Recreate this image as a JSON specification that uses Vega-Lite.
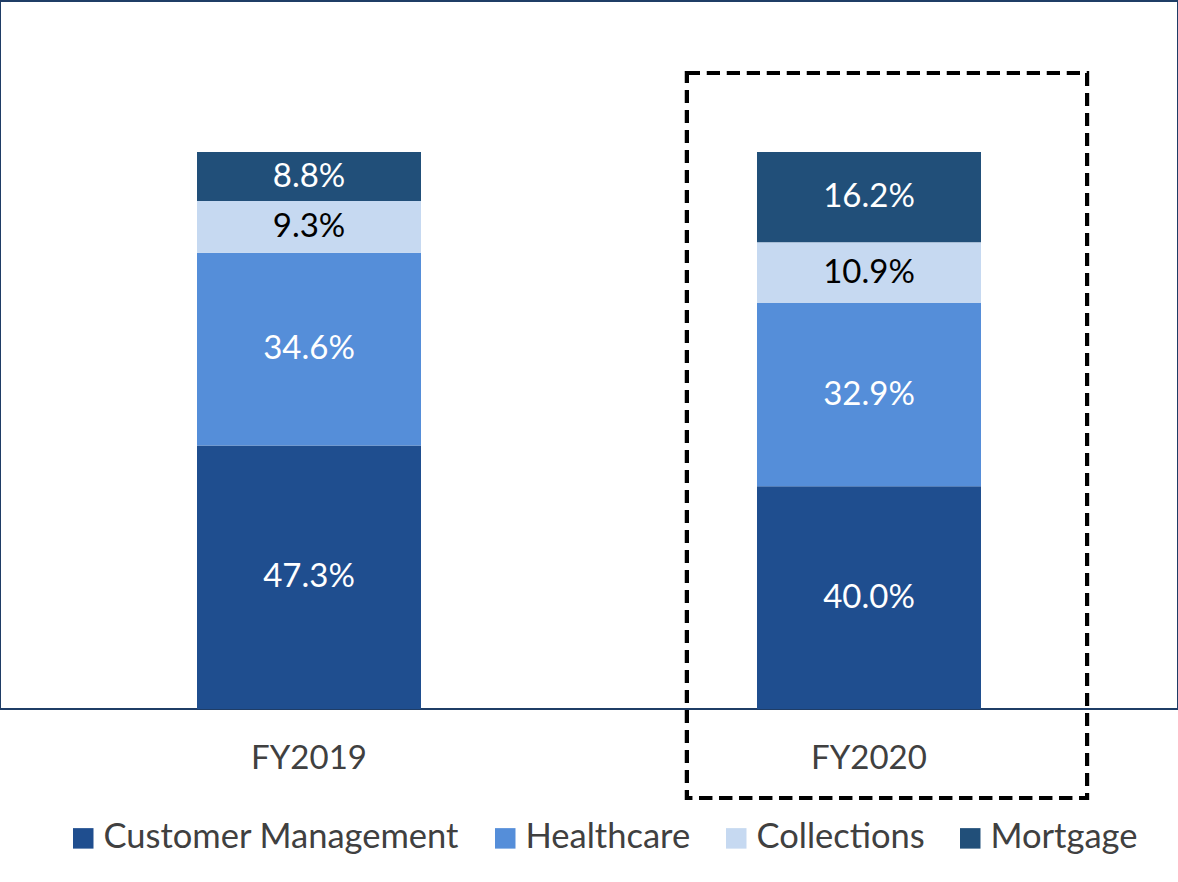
{
  "$schema": "https://vega.github.io/schema/vega-lite/v6.json",
  "width": 1178,
  "height": 708,
  "padding": {"left": 0, "top": 1, "right": 0, "bottom": 0},
  "background": "white",
  "config": {
    "font": "Lato",
    "view": {"stroke": "#1F3D66", "strokeWidth": 2}
  },
  "data": {
    "values": [
      {"year": "FY2019", "segment": "Customer Management", "k": 1, "share": 0.473},
      {"year": "FY2019", "segment": "Healthcare", "k": 2, "share": 0.346},
      {"year": "FY2019", "segment": "Collections", "k": 3, "share": 0.093},
      {"year": "FY2019", "segment": "Mortgage", "k": 4, "share": 0.088},
      {"year": "FY2020", "segment": "Customer Management", "k": 1, "share": 0.400},
      {"year": "FY2020", "segment": "Healthcare", "k": 2, "share": 0.329},
      {"year": "FY2020", "segment": "Collections", "k": 3, "share": 0.109},
      {"year": "FY2020", "segment": "Mortgage", "k": 4, "share": 0.162}
    ]
  },
  "encoding": {
    "x": {
      "field": "year",
      "type": "nominal",
      "scale": {"paddingInner": 0.6, "paddingOuter": 0.3518},
      "axis": {
        "title": null,
        "domain": false,
        "ticks": false,
        "labelAngle": 0,
        "labelFontSize": 33,
        "labelColor": "#404040",
        "labelPadding": 33
      }
    }
  },
  "layer": [
    {
      "mark": {"type": "bar"},
      "encoding": {
        "y": {
          "field": "share",
          "type": "quantitative",
          "stack": "zero",
          "scale": {"domain": [0, 1.2711], "nice": false, "zero": true},
          "axis": null
        },
        "order": {"field": "k", "type": "quantitative"},
        "color": {
          "field": "segment",
          "type": "nominal",
          "sort": ["Customer Management", "Healthcare", "Collections", "Mortgage"],
          "scale": {
            "domain": ["Customer Management", "Healthcare", "Collections", "Mortgage"],
            "range": ["#1F4E8F", "#558ED9", "#C6D9F1", "#214F79"]
          },
          "legend": {
            "title": null,
            "orient": "none",
            "direction": "horizontal",
            "legendX": 66,
            "legendY": 820,
            "symbolType": "square",
            "symbolSize": 420,
            "symbolStrokeWidth": 0,
            "symbolOpacity": 1,
            "labelFontSize": 34.5,
            "labelColor": "#404040",
            "labelOffset": 3,
            "columnPadding": 28,
            "labelLimit": 500
          }
        }
      }
    },
    {
      "transform": [
        {"stack": "share", "groupby": ["year"], "sort": [{"field": "k", "order": "ascending"}], "as": ["y0", "y1"]},
        {"fold": ["y0", "y1"], "as": ["edge", "pos"]},
        {"aggregate": [{"op": "mean", "field": "pos", "as": "mid"}], "groupby": ["year", "segment", "share"]}
      ],
      "mark": {"type": "text", "fontSize": 33, "baseline": "middle", "align": "center"},
      "encoding": {
        "y": {"field": "mid", "type": "quantitative"},
        "text": {"field": "share", "type": "quantitative", "format": ".1%"},
        "color": {
          "condition": {"test": "datum.segment === 'Collections'", "value": "#000000"},
          "value": "#FFFFFF"
        }
      }
    },
    {
      "mark": {
        "type": "bar",
        "width": {"band": 1.786},
        "xOffset": 18,
        "fillOpacity": 0,
        "stroke": "#000000",
        "strokeWidth": 4,
        "strokeDash": [13, 7]
      },
      "encoding": {
        "x": {"datum": "FY2020"},
        "y": {"datum": 1.1418},
        "y2": {"datum": -0.1598}
      }
    }
  ]
}
